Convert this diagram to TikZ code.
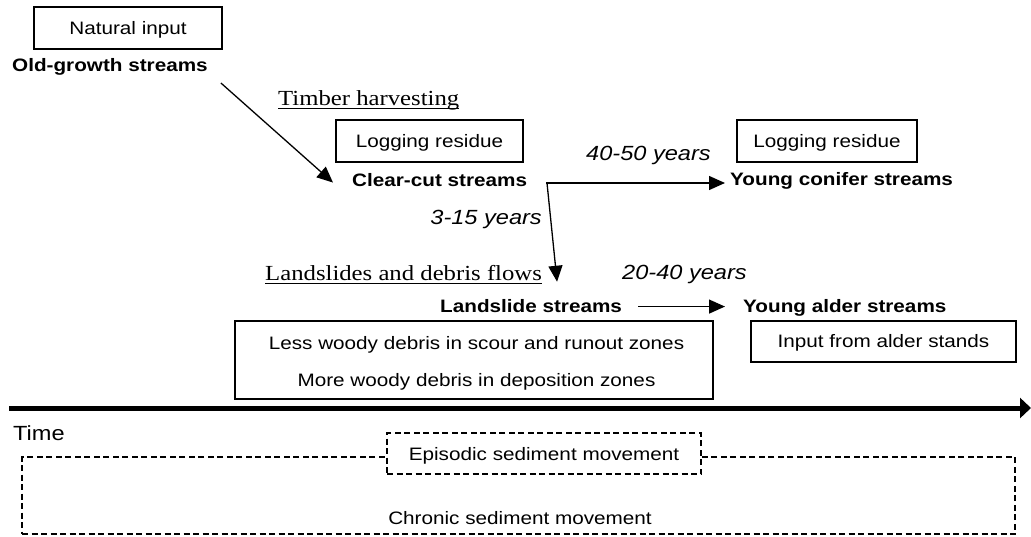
\documentclass[tikz,border=0pt]{standalone}
\usepackage{fontspec}
\setmainfont{Liberation Sans}[FakeStretch=1.15]
\newfontfamily\serifwide{Liberation Serif}[FakeStretch=1.15]
\usetikzlibrary{arrows.meta}
\newcommand{\fsz}{\fontsize{18}{20}\selectfont}
\tikzset{
 lbl/.style={inner sep=0pt, anchor=base west, font=\fsz\bfseries},
 yrs/.style={inner sep=0pt, anchor=base west, font=\fontsize{20.5}{22}\selectfont\itshape},
 ser/.style={inner sep=0pt, anchor=base west, font=\serifwide\fontsize{21.5}{23}\selectfont},
 box/.style={draw, line width=1.4pt, inner sep=0pt, text height=13pt, text depth=0pt, font=\fsz},
 txt/.style={inner sep=0pt, anchor=base, font=\fsz},
 arr/.style={line width=1.3pt, -{Triangle[length=16pt,width=14pt]}},
 dsh/.style={dash pattern=on 6pt off 3.5pt, line width=1.8pt},
 uline/.style={line width=1pt}
}
\begin{document}
\begin{tikzpicture}[x=1pt,y=-1pt]
\useasboundingbox (0,0) rectangle (1031,537);
% boxes
\node[box, minimum width=188pt, minimum height=42pt] (ni) at (128,28) {Natural input};
\node[box, minimum width=187pt, minimum height=42pt] (lr1) at (429.5,141) {Logging residue};
\node[box, minimum width=180pt, minimum height=42pt] (lr2) at (827,141) {Logging residue};
\node[box, minimum width=265pt, minimum height=41pt] (ia) at (883.5,341.5) {Input from alder stands};
\node[box, minimum width=478pt, minimum height=78pt] (lw) at (474,360) {};
\node[txt] (lw1) at (476.5,349.5) {Less woody debris in scour and runout zones};
\node[txt] (lw2) at (476.5,386.5) {More woody debris in deposition zones};
% stream labels
\node[lbl] (og) at (12,72) {Old-growth streams};
\node[lbl] (cc) at (352,187) {Clear-cut streams};
\node[lbl] (yc) at (730,186) {Young conifer streams};
\node[lbl] (ls) at (440,313) {Landslide streams};
\node[lbl] (ya) at (743,313) {Young alder streams};
% serif underlined labels
\node[ser] (th) at (278,106) {Timber harvesting};
\draw[uline] ([yshift=-2.5pt]th.base west) -- ([yshift=-2.5pt]th.base east);
\node[ser] (lsd) at (265,281) {Landslides and debris flows};
\draw[uline] ([yshift=-2.5pt]lsd.base west) -- ([yshift=-2.5pt]lsd.base east);
% year labels
\node[yrs] (y45) at (586,161) {40-50 years};
\node[yrs, anchor=base east] (y315) at (542,225) {3-15 years};
\node[yrs] (y24) at (622,280) {20-40 years};
% connectors
\draw[arr] ([shift={(13,7)}]og.south east) -- ([shift={(-19,2)}]cc.west);
\coordinate (j) at (547,183);
\draw[arr] ([shift={(-0.6,0)}]j) -- ([shift={(-5,0)}]j -| yc.west);
\draw[arr] (j) -- ([shift={(26,-18)}]ls.north);
\draw[arr] ([shift={(16,0)}]ls.east) -- ([shift={(-18,0)}]ls.east -| ya.west);
% time axis
\coordinate (t0) at (9,408);
\coordinate (t1) at (1031,408);
\draw[line width=5pt, -{Triangle[length=11pt,width=20pt]}] (t0) -- (t1);
\node[inner sep=0pt, anchor=base west, font=\fontsize{20.5}{22}\selectfont] (time) at (13,440) {Time};
% sediment boxes
\node[draw, dsh, inner sep=0pt, minimum width=993pt, minimum height=77pt] (chr) at (518.5,495.5) {};
\node[txt] (chrt) at (520,524.5) {Chronic sediment movement};
\node[box, dsh, fill=white, minimum width=314pt, minimum height=41pt] (epi) at (544,453.5) {Episodic sediment movement};
\end{tikzpicture}
\end{document}
